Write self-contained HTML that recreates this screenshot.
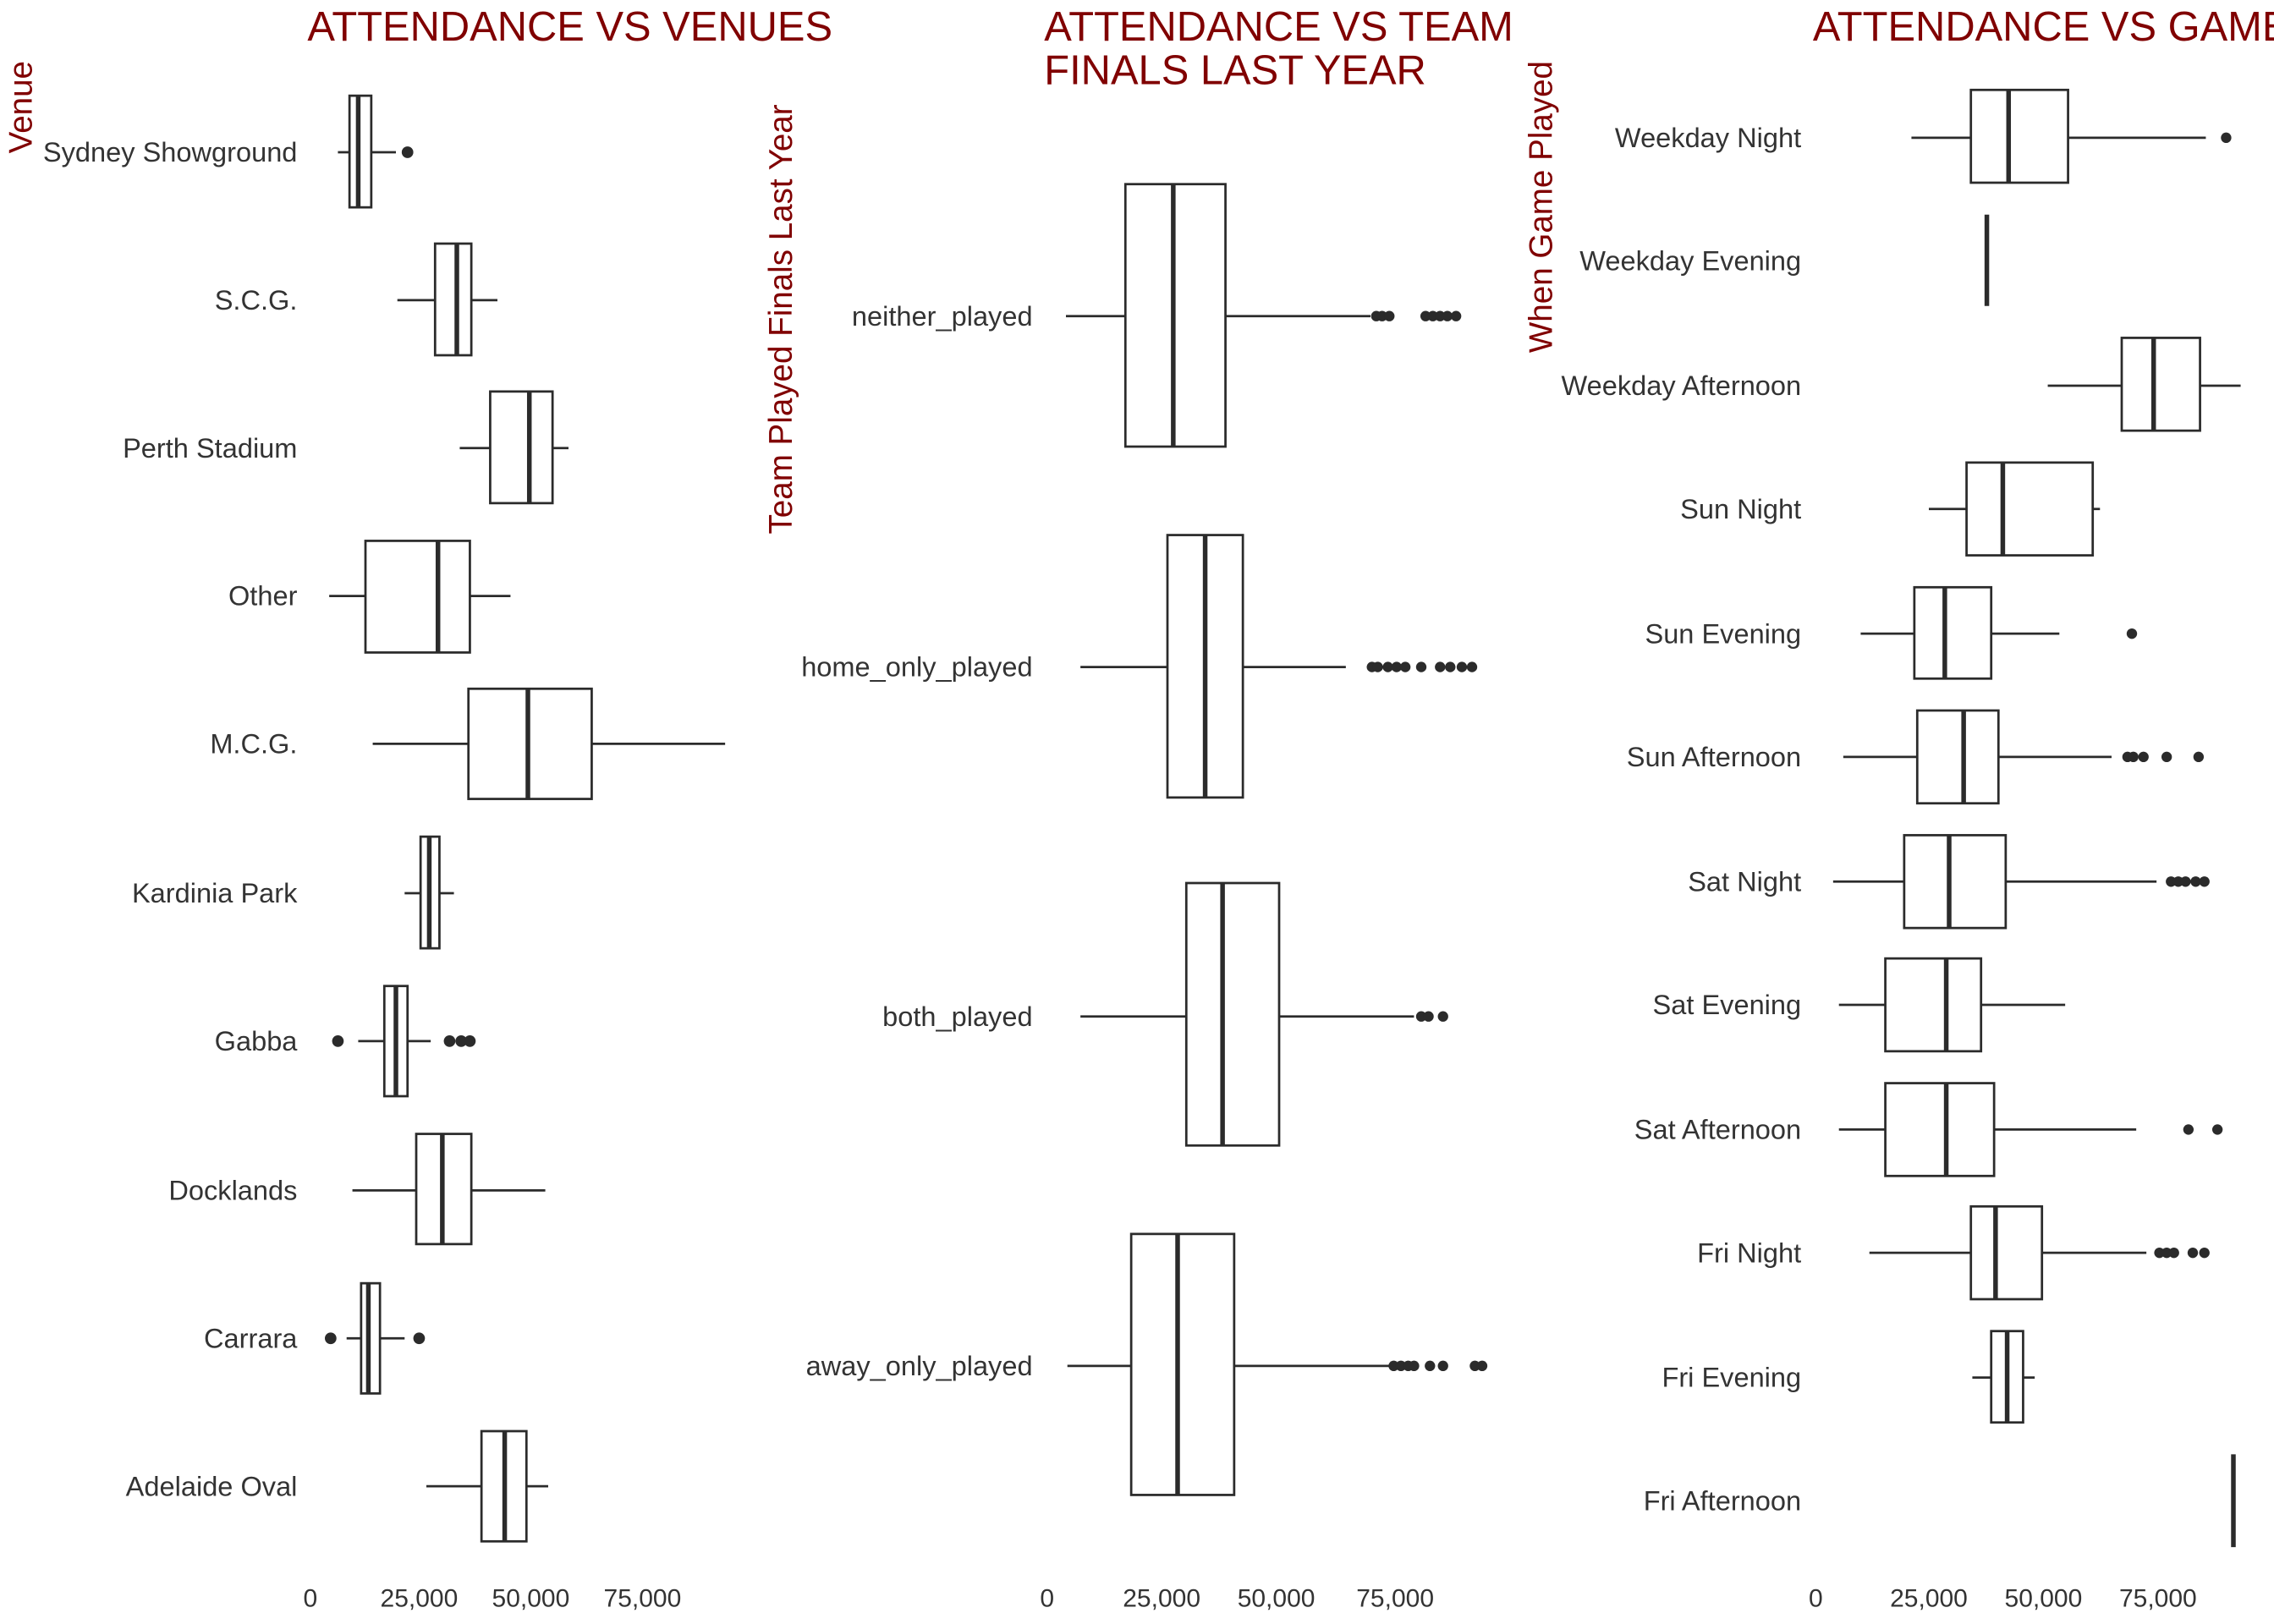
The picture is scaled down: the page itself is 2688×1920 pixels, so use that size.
<!DOCTYPE html>
<html><head><meta charset="utf-8"><style>
html,body{margin:0;padding:0;background:#fff;overflow:hidden;}
svg{display:block;}
text{font-family:"Liberation Sans",Arial,sans-serif;}
.l{font-size:19px;fill:#333;text-anchor:end;dominant-baseline:middle;}
.t{font-size:17.5px;fill:#333;text-anchor:middle;}
.ti{font-size:28.5px;fill:#800000;}
.yl{font-size:22.5px;fill:#800000;text-anchor:end;}
line,rect{stroke:#2b2b2b;stroke-width:1.6;fill:none;}
.m{stroke-width:3.2;}
circle{fill:#2b2b2b;}
</style></head><body>
<svg width="2688" height="1920" viewBox="0 0 1568 1120" xmlns="http://www.w3.org/2000/svg">
<rect x="0" y="0" width="1568" height="1120" style="fill:#fff;stroke:none"/>
<!-- Panel 1 -->
<text class="ti" x="212" y="28">ATTENDANCE VS VENUES</text>
<text class="yl" transform="translate(22,42) rotate(-90)">Venue</text>
<g transform="translate(0,1.5)">
<text class="l" x="205" y="105">Sydney Showground</text>
<text class="l" x="205" y="207">S.C.G.</text>
<text class="l" x="205" y="309">Perth Stadium</text>
<text class="l" x="205" y="411">Other</text>
<text class="l" x="205" y="513">M.C.G.</text>
<text class="l" x="205" y="616">Kardinia Park</text>
<text class="l" x="205" y="718">Gabba</text>
<text class="l" x="205" y="821">Docklands</text>
<text class="l" x="205" y="923">Carrara</text>
<text class="l" x="205" y="1025">Adelaide Oval</text>
</g>
<text class="t" x="214" y="1108">0</text>
<text class="t" x="289" y="1108">25,000</text>
<text class="t" x="366" y="1108">50,000</text>
<text class="t" x="443" y="1108">75,000</text>

<line x1="233" y1="105" x2="273" y2="105"/><rect x="241" y="66" width="15" height="77" style="fill:#fff"/><line class="m" x1="247" y1="66" x2="247" y2="143"/><circle cx="281" cy="105" r="4"/>
<line x1="274" y1="207" x2="343" y2="207"/><rect x="300" y="168" width="25" height="77" style="fill:#fff"/><line class="m" x1="315" y1="168" x2="315" y2="245"/>
<line x1="317" y1="309" x2="392" y2="309"/><rect x="338" y="270" width="43" height="77" style="fill:#fff"/><line class="m" x1="365" y1="270" x2="365" y2="347"/>
<line x1="227" y1="411" x2="352" y2="411"/><rect x="252" y="373" width="72" height="77" style="fill:#fff"/><line class="m" x1="302" y1="373" x2="302" y2="450"/>
<line x1="257" y1="513" x2="500" y2="513"/><rect x="323" y="475" width="85" height="76" style="fill:#fff"/><line class="m" x1="364" y1="475" x2="364" y2="551"/>
<line x1="279" y1="616" x2="313" y2="616"/><rect x="290" y="577" width="13" height="77" style="fill:#fff"/><line class="m" x1="296" y1="577" x2="296" y2="654"/>
<line x1="247" y1="718" x2="297" y2="718"/><rect x="265" y="680" width="16" height="76" style="fill:#fff"/><line class="m" x1="273" y1="680" x2="273" y2="756"/><circle cx="233" cy="718" r="4"/><circle cx="310" cy="718" r="4"/><circle cx="318" cy="718" r="4"/><circle cx="324" cy="718" r="4"/>
<line x1="243" y1="821" x2="376" y2="821"/><rect x="287" y="782" width="38" height="76" style="fill:#fff"/><line class="m" x1="305" y1="782" x2="305" y2="858"/>
<line x1="239" y1="923" x2="279" y2="923"/><rect x="249" y="885" width="13" height="76" style="fill:#fff"/><line class="m" x1="254" y1="885" x2="254" y2="961"/><circle cx="228" cy="923" r="4"/><circle cx="289" cy="923" r="4"/>
<line x1="294" y1="1025" x2="378" y2="1025"/><rect x="332" y="987" width="31" height="76" style="fill:#fff"/><line class="m" x1="348" y1="987" x2="348" y2="1063"/>

<!-- Panel 2 -->
<text class="ti" x="720" y="28">ATTENDANCE VS TEAM</text>
<text class="ti" x="720" y="58">FINALS LAST YEAR</text>
<text class="yl" transform="translate(546,72) rotate(-90)">Team Played Finals Last Year</text>
<g transform="translate(0,1.5)">
<text class="l" x="712" y="218">neither_played</text>
<text class="l" x="712" y="460">home_only_played</text>
<text class="l" x="712" y="701">both_played</text>
<text class="l" x="712" y="942">away_only_played</text>
</g>
<text class="t" x="722" y="1108">0</text>
<text class="t" x="801" y="1108">25,000</text>
<text class="t" x="880" y="1108">50,000</text>
<text class="t" x="962" y="1108">75,000</text>

<line x1="735" y1="218" x2="945" y2="218"/><rect x="776" y="127" width="69" height="181" style="fill:#fff"/><line class="m" x1="809" y1="127" x2="809" y2="308"/>
<circle cx="949" cy="218" r="3.6"/><circle cx="953" cy="218" r="3.6"/><circle cx="958" cy="218" r="3.6"/><circle cx="983" cy="218" r="3.6"/><circle cx="988" cy="218" r="3.6"/><circle cx="993" cy="218" r="3.6"/><circle cx="998" cy="218" r="3.6"/><circle cx="1004" cy="218" r="3.6"/>
<line x1="745" y1="460" x2="928" y2="460"/><rect x="805" y="369" width="52" height="181" style="fill:#fff"/><line class="m" x1="831" y1="369" x2="831" y2="550"/>
<circle cx="946" cy="460" r="3.6"/><circle cx="950" cy="460" r="3.6"/><circle cx="957" cy="460" r="3.6"/><circle cx="963" cy="460" r="3.6"/><circle cx="969" cy="460" r="3.6"/><circle cx="980" cy="460" r="3.6"/><circle cx="993" cy="460" r="3.6"/><circle cx="1000" cy="460" r="3.6"/><circle cx="1008" cy="460" r="3.6"/><circle cx="1015" cy="460" r="3.6"/>
<line x1="745" y1="701" x2="975" y2="701"/><rect x="818" y="609" width="64" height="181" style="fill:#fff"/><line class="m" x1="843" y1="609" x2="843" y2="790"/>
<circle cx="980" cy="701" r="3.6"/><circle cx="985" cy="701" r="3.6"/><circle cx="995" cy="701" r="3.6"/>
<line x1="736" y1="942" x2="958" y2="942"/><rect x="780" y="851" width="71" height="180" style="fill:#fff"/><line class="m" x1="812" y1="851" x2="812" y2="1031"/>
<circle cx="961" cy="942" r="3.6"/><circle cx="966" cy="942" r="3.6"/><circle cx="971" cy="942" r="3.6"/><circle cx="975" cy="942" r="3.6"/><circle cx="986" cy="942" r="3.6"/><circle cx="995" cy="942" r="3.6"/><circle cx="1017" cy="942" r="3.6"/><circle cx="1022" cy="942" r="3.6"/>

<!-- Panel 3 -->
<text class="ti" x="1250" y="28">ATTENDANCE VS GAMES</text>
<text class="yl" transform="translate(1070,42) rotate(-90)">When Game Played</text>
<g transform="translate(0,1.5)">
<text class="l" x="1242" y="95">Weekday Night</text>
<text class="l" x="1242" y="180">Weekday Evening</text>
<text class="l" x="1242" y="266">Weekday Afternoon</text>
<text class="l" x="1242" y="351">Sun Night</text>
<text class="l" x="1242" y="437">Sun Evening</text>
<text class="l" x="1242" y="522">Sun Afternoon</text>
<text class="l" x="1242" y="608">Sat Night</text>
<text class="l" x="1242" y="693">Sat Evening</text>
<text class="l" x="1242" y="779">Sat Afternoon</text>
<text class="l" x="1242" y="864">Fri Night</text>
<text class="l" x="1242" y="950">Fri Evening</text>
<text class="l" x="1242" y="1035">Fri Afternoon</text>
</g>
<text class="t" x="1252" y="1108">0</text>
<text class="t" x="1330" y="1108">25,000</text>
<text class="t" x="1409" y="1108">50,000</text>
<text class="t" x="1488" y="1108">75,000</text>

<line x1="1318" y1="95" x2="1521" y2="95"/><rect x="1359" y="62" width="67" height="64" style="fill:#fff"/><line class="m" x1="1385" y1="62" x2="1385" y2="126"/><circle cx="1535" cy="95" r="3.6"/>
<line class="m" x1="1370" y1="148" x2="1370" y2="211"/>
<line x1="1412" y1="266" x2="1545" y2="266"/><rect x="1463" y="233" width="54" height="64" style="fill:#fff"/><line class="m" x1="1485" y1="233" x2="1485" y2="297"/>
<line x1="1330" y1="351" x2="1448" y2="351"/><rect x="1356" y="319" width="87" height="64" style="fill:#fff"/><line class="m" x1="1381" y1="319" x2="1381" y2="383"/>
<line x1="1283" y1="437" x2="1420" y2="437"/><rect x="1320" y="405" width="53" height="63" style="fill:#fff"/><line class="m" x1="1341" y1="405" x2="1341" y2="468"/><circle cx="1470" cy="437" r="3.6"/>
<line x1="1271" y1="522" x2="1456" y2="522"/><rect x="1322" y="490" width="56" height="64" style="fill:#fff"/><line class="m" x1="1354" y1="490" x2="1354" y2="554"/><circle cx="1467" cy="522" r="3.6"/><circle cx="1471" cy="522" r="3.6"/><circle cx="1478" cy="522" r="3.6"/><circle cx="1494" cy="522" r="3.6"/><circle cx="1516" cy="522" r="3.6"/>
<line x1="1264" y1="608" x2="1487" y2="608"/><rect x="1313" y="576" width="70" height="64" style="fill:#fff"/><line class="m" x1="1344" y1="576" x2="1344" y2="640"/><circle cx="1497" cy="608" r="3.6"/><circle cx="1502" cy="608" r="3.6"/><circle cx="1507" cy="608" r="3.6"/><circle cx="1514" cy="608" r="3.6"/><circle cx="1520" cy="608" r="3.6"/>
<line x1="1268" y1="693" x2="1424" y2="693"/><rect x="1300" y="661" width="66" height="64" style="fill:#fff"/><line class="m" x1="1342" y1="661" x2="1342" y2="725"/>
<line x1="1268" y1="779" x2="1473" y2="779"/><rect x="1300" y="747" width="75" height="64" style="fill:#fff"/><line class="m" x1="1342" y1="747" x2="1342" y2="811"/><circle cx="1509" cy="779" r="3.6"/><circle cx="1529" cy="779" r="3.6"/>
<line x1="1289" y1="864" x2="1480" y2="864"/><rect x="1359" y="832" width="49" height="64" style="fill:#fff"/><line class="m" x1="1376" y1="832" x2="1376" y2="896"/><circle cx="1489" cy="864" r="3.6"/><circle cx="1494" cy="864" r="3.6"/><circle cx="1499" cy="864" r="3.6"/><circle cx="1512" cy="864" r="3.6"/><circle cx="1520" cy="864" r="3.6"/>
<line x1="1360" y1="950" x2="1403" y2="950"/><rect x="1373" y="918" width="22" height="63" style="fill:#fff"/><line class="m" x1="1384" y1="918" x2="1384" y2="981"/>
<line class="m" x1="1540" y1="1003" x2="1540" y2="1067"/>
</svg>
</body></html>
